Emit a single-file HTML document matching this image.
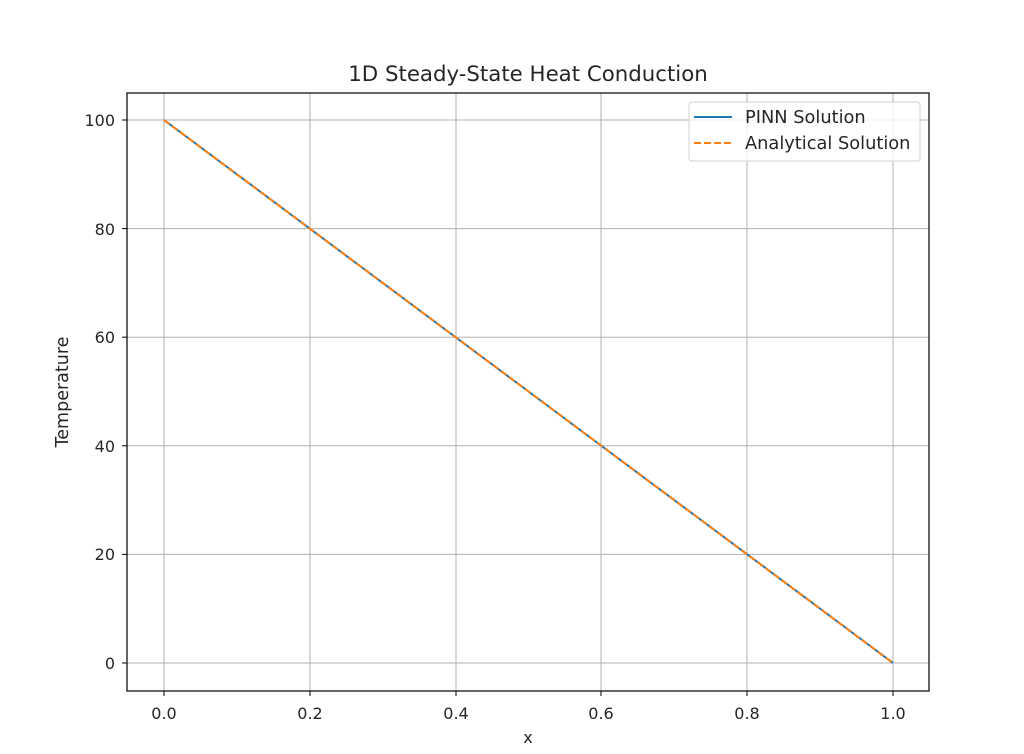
<!DOCTYPE html>
<html><head><style>body{margin:0;background:#fff}</style></head><body>
<svg width="1024" height="749" xmlns="http://www.w3.org/2000/svg" font-family="DejaVu Sans, Liberation Sans, sans-serif" font-size="16" fill="#262626">
<rect width="1024" height="749" fill="#fff"/>
<g stroke="#b0b0b0" stroke-width="1">
<line x1="164" y1="93" x2="164" y2="691"/><line x1="310" y1="93" x2="310" y2="691"/><line x1="456" y1="93" x2="456" y2="691"/><line x1="601" y1="93" x2="601" y2="691"/><line x1="747" y1="93" x2="747" y2="691"/><line x1="893" y1="93" x2="893" y2="691"/>
<line x1="127" y1="663" x2="929" y2="663"/><line x1="127" y1="554.4" x2="929" y2="554.4"/><line x1="127" y1="445.8" x2="929" y2="445.8"/><line x1="127" y1="337.2" x2="929" y2="337.2"/><line x1="127" y1="228.6" x2="929" y2="228.6"/><line x1="127" y1="120" x2="929" y2="120"/>
</g>
<line x1="164" y1="120" x2="893" y2="663" stroke="#1f77b4" stroke-width="2"/>
<line x1="164" y1="120" x2="893" y2="663" stroke="#ff7f0e" stroke-width="2" stroke-dasharray="7,3"/>
<rect x="127" y="93" width="802" height="598" fill="none" stroke="#000" stroke-width="1.2"/>
<g stroke="#000" stroke-width="1">
<line x1="164" y1="691" x2="164" y2="696"/><line x1="310" y1="691" x2="310" y2="696"/><line x1="456" y1="691" x2="456" y2="696"/><line x1="601" y1="691" x2="601" y2="696"/><line x1="747" y1="691" x2="747" y2="696"/><line x1="893" y1="691" x2="893" y2="696"/>
<line x1="122" y1="663" x2="127" y2="663"/><line x1="122" y1="554.4" x2="127" y2="554.4"/><line x1="122" y1="445.8" x2="127" y2="445.8"/><line x1="122" y1="337.2" x2="127" y2="337.2"/><line x1="122" y1="228.6" x2="127" y2="228.6"/><line x1="122" y1="120" x2="127" y2="120"/>
</g>
<g text-anchor="middle">
<text x="164" y="719">0.0</text><text x="310" y="719">0.2</text><text x="456" y="719">0.4</text><text x="601" y="719">0.6</text><text x="747" y="719">0.8</text><text x="893" y="719">1.0</text>
<text x="528" y="743">x</text>
<text x="528" y="81" font-size="21.3">1D Steady-State Heat Conduction</text>
</g>
<g text-anchor="end">
<text x="115" y="669">0</text><text x="115" y="560">20</text><text x="115" y="452">40</text><text x="115" y="343">60</text><text x="115" y="235">80</text><text x="115" y="126">100</text>
</g>
<text transform="translate(68,392) rotate(-90)" text-anchor="middle" font-size="17.5">Temperature</text>
<rect x="689" y="102" width="231" height="59" rx="3" fill="#fff" fill-opacity="0.8" stroke="#d0d0d0"/>
<line x1="694" y1="117" x2="732" y2="117" stroke="#1f77b4" stroke-width="2"/>
<line x1="694" y1="143" x2="732" y2="143" stroke="#ff7f0e" stroke-width="2" stroke-dasharray="7,3"/>
<text x="745" y="123" font-size="17.8">PINN Solution</text>
<text x="745" y="149" font-size="17.8">Analytical Solution</text>
</svg>
</body></html>
